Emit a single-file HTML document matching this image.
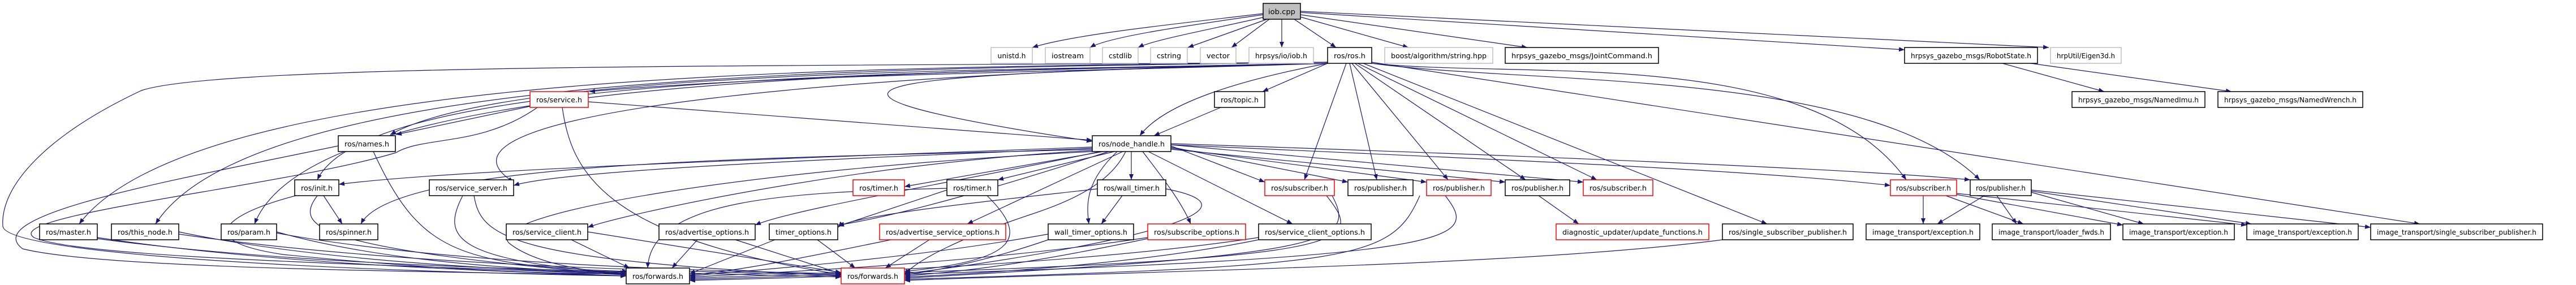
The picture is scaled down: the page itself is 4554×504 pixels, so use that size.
<!DOCTYPE html>
<html><head><meta charset="utf-8"><style>
html,body{margin:0;padding:0;background:#fff;}
svg{display:block;}
text{font-family:"DejaVu Sans","Liberation Sans",sans-serif;font-size:12px;fill:#000;}
.e{fill:none;stroke:#191970;stroke-width:1.2;marker-end:url(#a);}
.b{fill:#fff;stroke:#000;stroke-width:1.5;}
.r{fill:#fff;stroke:#ff0000;stroke-width:1.5;}
.g{fill:#fff;stroke:#bfbfbf;stroke-width:1.5;}
</style></head><body>
<svg width="4554" height="504" viewBox="0 0 4554 504" xmlns="http://www.w3.org/2000/svg">
<defs><marker id="a" markerWidth="10" markerHeight="8" refX="10" refY="4" orient="auto" markerUnits="userSpaceOnUse"><path d="M0,0L10,4L0,8z" fill="#191970"/></marker></defs>
<g>
<path class="e" d="M2233,24 C2100,40 1900,60 1825,84"/>
<path class="e" d="M2233,26 C2100,45 1960,65 1927,84"/>
<path class="e" d="M2236,30 C2150,50 2040,70 2012,84"/>
<path class="e" d="M2240,34 L2100,84"/>
<path class="e" d="M2244,34 L2177,84"/>
<path class="e" d="M2266,34 L2266,84"/>
<path class="e" d="M2288,34 L2362,84"/>
<path class="e" d="M2299,30 L2490,84"/>
<path class="e" d="M2299,26 L2700,84"/>
<path class="e" d="M2299,22 C2800,50 3200,75 3367,88"/>
<path class="e" d="M2299,20 C2900,50 3400,70 3622,84"/>
<path class="e" d="M2347,112 C2200,140 2060,180 2015,240"/>
<path class="e" d="M2347,112 L2232,162"/>
<path class="e" d="M2347,112 C2000,125 1400,130 1042,162"/>
<path class="e" d="M2347,112 C1800,125 900,120 690,238"/>
<path class="e" d="M2347,112 C1600,130 650,130 561,318"/>
<path class="e" d="M2347,110 C1500,120 350,120 140,396"/>
<path class="e" d="M2347,110 C1500,122 450,125 275,396"/>
<path class="e" d="M2347,112 C1500,128 550,140 450,396"/>
<path class="e" d="M2347,110 C1500,118 400,110 250,160 C80,240 0,330 5,400 C10,450 600,480 1107,488"/>
<path class="e" d="M2347,112 C1700,130 1200,140 1931,250"/>
<path class="e" d="M2380,112 L2306,318"/>
<path class="e" d="M2386,112 L2434,318"/>
<path class="e" d="M2390,112 L2560,318"/>
<path class="e" d="M2395,112 L2697,318"/>
<path class="e" d="M2400,112 L2823,318"/>
<path class="e" d="M2410,112 L3124,396"/>
<path class="e" d="M2425,112 C2700,140 3200,80 3370,318"/>
<path class="e" d="M2425,112 C2700,150 3300,120 3500,318"/>
<path class="e" d="M2425,110 L4278,396"/>
<path class="e" d="M2347,112 C1600,125 700,190 908,322"/>
<path class="e" d="M937,188 L700,238"/>
<path class="e" d="M950,190 C850,260 750,240 700,270 C500,330 0,380 60,420 C150,460 800,470 1107,486"/>
<path class="e" d="M994,190 C1010,300 1060,420 1490,486"/>
<path class="e" d="M1040,180 L1931,248"/>
<path class="e" d="M2158,190 L2040,240"/>
<path class="e" d="M598,258 C300,320 -40,380 40,440 C200,480 900,480 1107,488"/>
<path class="e" d="M660,268 C740,440 800,470 1110,480"/>
<path class="e" d="M1931,260 C1400,280 800,300 599,326"/>
<path class="e" d="M1931,262 C1500,280 1000,300 908,328"/>
<path class="e" d="M1931,264 C1400,280 700,280 638,396"/>
<path class="e" d="M1931,266 C1500,290 1100,380 1039,402"/>
<path class="e" d="M1931,268 C1300,300 850,380 900,430 C950,470 1050,480 1107,486"/>
<path class="e" d="M1950,268 L1599,330"/>
<path class="e" d="M1970,268 L1764,318"/>
<path class="e" d="M2000,268 L2000,318"/>
<path class="e" d="M1945,268 C1700,320 1400,370 1335,398"/>
<path class="e" d="M1960,268 C1800,320 1600,380 1482,398"/>
<path class="e" d="M1985,268 L1710,396"/>
<path class="e" d="M1975,268 C1920,320 1920,360 1925,396"/>
<path class="e" d="M2020,268 C2060,320 2090,360 2105,396"/>
<path class="e" d="M2030,268 L2285,396"/>
<path class="e" d="M2070,258 L2236,322"/>
<path class="e" d="M2070,260 L2383,322"/>
<path class="e" d="M2070,262 L2522,322"/>
<path class="e" d="M2070,264 L2661,322"/>
<path class="e" d="M2070,256 L2799,322"/>
<path class="e" d="M2070,256 C2600,280 3100,300 3342,328"/>
<path class="e" d="M2070,254 C2700,275 3300,300 3483,318"/>
<path class="e" d="M1990,268 C1960,330 1880,360 1820,380 C1700,420 1620,460 1599,486"/>
<path class="e" d="M561,346 C520,400 550,440 1107,486"/>
<path class="e" d="M550,340 C450,360 300,420 500,450 C800,480 1000,485 1107,484"/>
<path class="e" d="M572,346 L605,396"/>
<path class="e" d="M818,346 C780,420 800,460 1107,484"/>
<path class="e" d="M838,346 C850,420 900,460 1487,488"/>
<path class="e" d="M172,420 C500,470 900,480 1107,488"/>
<path class="e" d="M172,422 C600,480 1200,480 1487,490"/>
<path class="e" d="M316,410 C600,470 1000,480 1107,484"/>
<path class="e" d="M316,414 C700,470 1200,480 1487,486"/>
<path class="e" d="M489,410 C700,470 1000,480 1107,482"/>
<path class="e" d="M489,412 C800,470 1300,480 1487,484"/>
<path class="e" d="M1010,424 L1113,474"/>
<path class="e" d="M1039,410 L1487,482"/>
<path class="e" d="M1233,424 L1188,474"/>
<path class="e" d="M1300,424 L1487,484"/>
<path class="e" d="M1370,424 L1219,484"/>
<path class="e" d="M1445,424 L1512,474"/>
<path class="e" d="M1675,333 C1400,340 1150,350 1145,474"/>
<path class="e" d="M1674,336 L1482,400"/>
<path class="e" d="M1745,346 C1820,420 1800,460 1599,480"/>
<path class="e" d="M1940,334 C1800,350 1500,380 1482,402"/>
<path class="e" d="M1984,346 L1947,396"/>
<path class="e" d="M2061,334 C2300,380 1800,460 1599,484"/>
<path class="e" d="M1575,424 C1400,460 1300,480 1219,486"/>
<path class="e" d="M1643,424 L1565,474"/>
<path class="e" d="M1853,414 C1600,460 1300,480 1219,488"/>
<path class="e" d="M1853,424 C1750,460 1650,480 1599,486"/>
<path class="e" d="M2029,420 C1700,470 1300,485 1219,490"/>
<path class="e" d="M2029,422 C1800,470 1700,480 1599,488"/>
<path class="e" d="M2225,420 C1900,470 1400,485 1219,492"/>
<path class="e" d="M2225,424 C2000,470 1700,485 1599,490"/>
<path class="e" d="M2355,346 C2400,430 2350,450 1599,492"/>
<path class="e" d="M2345,346 C2420,440 2400,460 1219,494"/>
<path class="e" d="M2510,346 C2460,460 2400,470 1599,494"/>
<path class="e" d="M2555,346 C2620,430 2600,460 1219,496"/>
<path class="e" d="M2720,346 L2791,396"/>
<path class="e" d="M3045,424 C2700,470 2000,480 1599,496"/>
<path class="e" d="M3400,346 L3400,396"/>
<path class="e" d="M3440,346 L3577,396"/>
<path class="e" d="M3459,344 L3753,398"/>
<path class="e" d="M3459,342 L3972,398"/>
<path class="e" d="M3508,346 L3425,396"/>
<path class="e" d="M3530,346 L3565,396"/>
<path class="e" d="M3591,340 L3790,396"/>
<path class="e" d="M3591,338 L3980,396"/>
<path class="e" d="M3591,336 L4191,402"/>
<path class="e" d="M3540,112 L3720,162"/>
<path class="e" d="M3590,112 L3945,162"/>
</g>
<g>
<rect x="2233" y="6" width="66" height="28" fill="#bfbfbf" stroke="#000" stroke-width="1.5"/><text x="2266" y="25" text-anchor="middle" textLength="48" lengthAdjust="spacingAndGlyphs">iob.cpp</text>
<rect class="g" x="1752" y="84" width="73" height="28"/><text x="1788.5" y="103" text-anchor="middle" textLength="50" lengthAdjust="spacingAndGlyphs">unistd.h</text>
<rect class="g" x="1848" y="84" width="79" height="28"/><text x="1887.5" y="103" text-anchor="middle" textLength="57" lengthAdjust="spacingAndGlyphs">iostream</text>
<rect class="g" x="1949" y="84" width="63" height="28"/><text x="1980.5" y="103" text-anchor="middle" textLength="41" lengthAdjust="spacingAndGlyphs">cstdlib</text>
<rect class="g" x="2034" y="84" width="65" height="28"/><text x="2066.5" y="103" text-anchor="middle" textLength="43" lengthAdjust="spacingAndGlyphs">cstring</text>
<rect class="g" x="2122" y="84" width="63" height="28"/><text x="2153.5" y="103" text-anchor="middle" textLength="41" lengthAdjust="spacingAndGlyphs">vector</text>
<rect class="g" x="2208" y="84" width="114" height="28"/><text x="2265" y="103" text-anchor="middle" textLength="92" lengthAdjust="spacingAndGlyphs">hrpsys/io/iob.h</text>
<rect class="b" x="2347" y="84" width="78" height="28"/><text x="2386" y="103" text-anchor="middle" textLength="56" lengthAdjust="spacingAndGlyphs">ros/ros.h</text>
<rect class="g" x="2448" y="84" width="191" height="28"/><text x="2543.5" y="103" text-anchor="middle" textLength="169" lengthAdjust="spacingAndGlyphs">boost/algorithm/string.hpp</text>
<rect class="b" x="2661" y="84" width="271" height="28"/><text x="2796.5" y="103" text-anchor="middle" textLength="249" lengthAdjust="spacingAndGlyphs">hrpsys_gazebo_msgs/JointCommand.h</text>
<rect class="b" x="3367" y="84" width="235" height="28"/><text x="3484.5" y="103" text-anchor="middle" textLength="213" lengthAdjust="spacingAndGlyphs">hrpsys_gazebo_msgs/RobotState.h</text>
<rect class="g" x="3625" y="84" width="125" height="28"/><text x="3687.5" y="103" text-anchor="middle" textLength="103" lengthAdjust="spacingAndGlyphs">hrpUtil/Eigen3d.h</text>
<rect class="r" x="937" y="162" width="103" height="28"/><text x="988.5" y="181" text-anchor="middle" textLength="81" lengthAdjust="spacingAndGlyphs">ros/service.h</text>
<rect class="b" x="2147" y="162" width="89" height="28"/><text x="2191.5" y="181" text-anchor="middle" textLength="67" lengthAdjust="spacingAndGlyphs">ros/topic.h</text>
<rect class="b" x="3663" y="162" width="235" height="28"/><text x="3780.5" y="181" text-anchor="middle" textLength="213" lengthAdjust="spacingAndGlyphs">hrpsys_gazebo_msgs/NamedImu.h</text>
<rect class="b" x="3921" y="162" width="256" height="28"/><text x="4049" y="181" text-anchor="middle" textLength="234" lengthAdjust="spacingAndGlyphs">hrpsys_gazebo_msgs/NamedWrench.h</text>
<rect class="b" x="598" y="240" width="101" height="28"/><text x="648.5" y="259" text-anchor="middle" textLength="79" lengthAdjust="spacingAndGlyphs">ros/names.h</text>
<rect class="b" x="1931" y="240" width="139" height="28"/><text x="2000.5" y="259" text-anchor="middle" textLength="117" lengthAdjust="spacingAndGlyphs">ros/node_handle.h</text>
<rect class="b" x="521" y="318" width="78" height="28"/><text x="560" y="337" text-anchor="middle" textLength="56" lengthAdjust="spacingAndGlyphs">ros/init.h</text>
<rect class="b" x="759" y="318" width="149" height="28"/><text x="833.5" y="337" text-anchor="middle" textLength="127" lengthAdjust="spacingAndGlyphs">ros/service_server.h</text>
<rect class="r" x="1508" y="318" width="91" height="28"/><text x="1553.5" y="337" text-anchor="middle" textLength="69" lengthAdjust="spacingAndGlyphs">ros/timer.h</text>
<rect class="b" x="1674" y="318" width="90" height="28"/><text x="1719" y="337" text-anchor="middle" textLength="68" lengthAdjust="spacingAndGlyphs">ros/timer.h</text>
<rect class="b" x="1940" y="318" width="121" height="28"/><text x="2000.5" y="337" text-anchor="middle" textLength="99" lengthAdjust="spacingAndGlyphs">ros/wall_timer.h</text>
<rect class="r" x="2236" y="318" width="123" height="28"/><text x="2297.5" y="337" text-anchor="middle" textLength="101" lengthAdjust="spacingAndGlyphs">ros/subscriber.h</text>
<rect class="b" x="2383" y="318" width="115" height="28"/><text x="2440.5" y="337" text-anchor="middle" textLength="93" lengthAdjust="spacingAndGlyphs">ros/publisher.h</text>
<rect class="r" x="2522" y="318" width="114" height="28"/><text x="2579" y="337" text-anchor="middle" textLength="92" lengthAdjust="spacingAndGlyphs">ros/publisher.h</text>
<rect class="b" x="2661" y="318" width="114" height="28"/><text x="2718" y="337" text-anchor="middle" textLength="92" lengthAdjust="spacingAndGlyphs">ros/publisher.h</text>
<rect class="r" x="2799" y="318" width="123" height="28"/><text x="2860.5" y="337" text-anchor="middle" textLength="101" lengthAdjust="spacingAndGlyphs">ros/subscriber.h</text>
<rect class="r" x="3342" y="318" width="117" height="28"/><text x="3400.5" y="337" text-anchor="middle" textLength="97" lengthAdjust="spacingAndGlyphs">ros/subscriber.h</text>
<rect class="b" x="3483" y="318" width="108" height="28"/><text x="3537" y="337" text-anchor="middle" textLength="88" lengthAdjust="spacingAndGlyphs">ros/publisher.h</text>
<rect class="b" x="70" y="396" width="102" height="28"/><text x="121" y="415" text-anchor="middle" textLength="80" lengthAdjust="spacingAndGlyphs">ros/master.h</text>
<rect class="b" x="197" y="396" width="119" height="28"/><text x="256.5" y="415" text-anchor="middle" textLength="97" lengthAdjust="spacingAndGlyphs">ros/this_node.h</text>
<rect class="b" x="391" y="396" width="98" height="28"/><text x="440" y="415" text-anchor="middle" textLength="76" lengthAdjust="spacingAndGlyphs">ros/param.h</text>
<rect class="b" x="565" y="396" width="103" height="28"/><text x="616.5" y="415" text-anchor="middle" textLength="81" lengthAdjust="spacingAndGlyphs">ros/spinner.h</text>
<rect class="b" x="895" y="396" width="144" height="28"/><text x="967" y="415" text-anchor="middle" textLength="122" lengthAdjust="spacingAndGlyphs">ros/service_client.h</text>
<rect class="b" x="1165" y="396" width="170" height="28"/><text x="1250" y="415" text-anchor="middle" textLength="148" lengthAdjust="spacingAndGlyphs">ros/advertise_options.h</text>
<rect class="b" x="1360" y="396" width="121" height="28"/><text x="1420.5" y="415" text-anchor="middle" textLength="99" lengthAdjust="spacingAndGlyphs">timer_options.h</text>
<rect class="r" x="1555" y="396" width="223" height="28"/><text x="1666.5" y="415" text-anchor="middle" textLength="201" lengthAdjust="spacingAndGlyphs">ros/advertise_service_options.h</text>
<rect class="b" x="1853" y="396" width="151" height="28"/><text x="1928.5" y="415" text-anchor="middle" textLength="129" lengthAdjust="spacingAndGlyphs">wall_timer_options.h</text>
<rect class="r" x="2029" y="396" width="173" height="28"/><text x="2115.5" y="415" text-anchor="middle" textLength="151" lengthAdjust="spacingAndGlyphs">ros/subscribe_options.h</text>
<rect class="b" x="2225" y="396" width="199" height="28"/><text x="2324.5" y="415" text-anchor="middle" textLength="177" lengthAdjust="spacingAndGlyphs">ros/service_client_options.h</text>
<rect class="r" x="2751" y="396" width="270" height="28"/><text x="2886" y="415" text-anchor="middle" textLength="248" lengthAdjust="spacingAndGlyphs">diagnostic_updater/update_functions.h</text>
<rect class="b" x="3045" y="396" width="231" height="28"/><text x="3160.5" y="415" text-anchor="middle" textLength="209" lengthAdjust="spacingAndGlyphs">ros/single_subscriber_publisher.h</text>
<rect class="b" x="3299" y="396" width="201" height="28"/><text x="3399.5" y="415" text-anchor="middle" textLength="179" lengthAdjust="spacingAndGlyphs">image_transport/exception.h</text>
<rect class="b" x="3522" y="396" width="209" height="28"/><text x="3626.5" y="415" text-anchor="middle" textLength="187" lengthAdjust="spacingAndGlyphs">image_transport/loader_fwds.h</text>
<rect class="b" x="3753" y="396" width="197" height="28"/><text x="3851.5" y="415" text-anchor="middle" textLength="175" lengthAdjust="spacingAndGlyphs">image_transport/exception.h</text>
<rect class="b" x="3972" y="396" width="197" height="28"/><text x="4070.5" y="415" text-anchor="middle" textLength="175" lengthAdjust="spacingAndGlyphs">image_transport/exception.h</text>
<rect class="b" x="4191" y="396" width="304" height="28"/><text x="4343" y="415" text-anchor="middle" textLength="282" lengthAdjust="spacingAndGlyphs">image_transport/single_subscriber_publisher.h</text>
<rect class="b" x="1107" y="474" width="112" height="28"/><text x="1163" y="493" text-anchor="middle" textLength="90" lengthAdjust="spacingAndGlyphs">ros/forwards.h</text>
<rect class="r" x="1487" y="474" width="112" height="28"/><text x="1543" y="493" text-anchor="middle" textLength="90" lengthAdjust="spacingAndGlyphs">ros/forwards.h</text>
</g>
</svg>
</body></html>
